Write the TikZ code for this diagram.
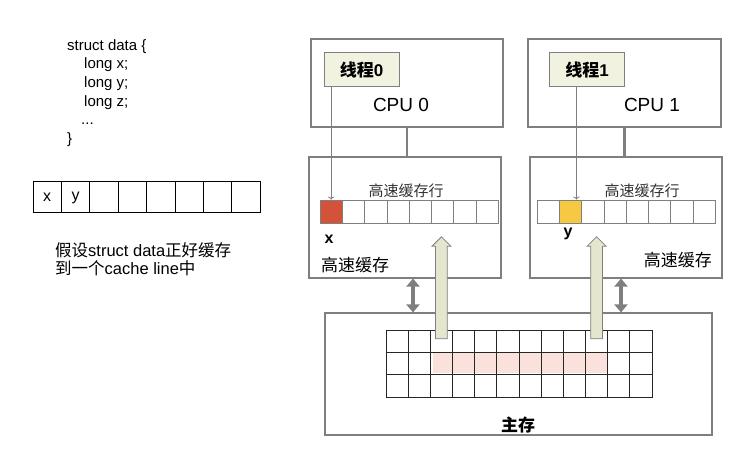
\documentclass[tikz,border=0pt]{standalone}
\usepackage{fontspec}
\setmainfont{Liberation Sans}
\newfontfamily\cjk{Noto Sans CJK SC}
\usepackage{xcolor}
\usetikzlibrary{arrows.meta,positioning,calc,shapes.arrows}

\definecolor{boxgray}{HTML}{7F7F7F}
\definecolor{threadfill}{HTML}{F2F2E1}
\definecolor{xred}{HTML}{D4523A}
\definecolor{yyellow}{HTML}{F7C843}
\definecolor{linepink}{HTML}{FBE1DC}
\definecolor{upfill}{HTML}{E4E6CE}

\begin{document}
\begin{tikzpicture}[
    x=1pt, y=-1pt,
    box/.style={draw=boxgray, line width=1.1pt, inner sep=0pt},
    thread/.style={draw=boxgray, fill=threadfill, line width=1pt, minimum width=75pt, minimum height=34pt, font=\fontsize{17}{17}\selectfont\bfseries},
    ccell/.style={draw=boxgray, line width=0.8pt, minimum width=22.3pt, minimum height=23pt, inner sep=0pt},
    mcell/.style={draw=black!85, line width=0.9pt, minimum width=22.17pt, minimum height=22.33pt, inner sep=0pt},
    acell/.style={draw=black, line width=1pt, minimum width=28.4pt, minimum height=31pt, inner sep=0pt, font=\fontsize{16}{16}\selectfont},
    lbl/.style={inner sep=0pt, font=\cjk\fontsize{17}{17}\selectfont},
    rowlbl/.style={inner sep=0pt, font=\cjk\fontsize{15}{15}\selectfont, text=black!80},
    cpulbl/.style={inner sep=0pt, font=\fontsize{19}{19}\selectfont},
    link/.style={draw=boxgray, line width=2.5pt},
    tarrow/.style={-{To[length=3pt]}, draw=boxgray, line width=0.8pt},
    dbl/.style={{Triangle[length=8pt,width=13pt]}-{Triangle[length=8pt,width=13pt]}, draw=boxgray, line width=4pt},
    uparrow/.style={single arrow, draw=boxgray, fill=upfill, line width=0.8pt, minimum height=102pt, inner xsep=0pt, inner ysep=5.5pt, single arrow head extend=3.5pt, rotate=90, anchor=tail},
]
    \useasboundingbox (0,0) rectangle (740,462);

    % Left: struct and its cache line
    \node[anchor=west, align=left, inner sep=0pt, font=\fontsize{15}{18.6}\selectfont] (code) at (67,93)
        {struct data \{\\\hspace*{17pt}long x;\\\hspace*{17pt}long y;\\\hspace*{17pt}long z;\\\hspace*{14pt}...\\\}};
    \foreach \i/\t in {0/x,1/y,2/,3/,4/,5/,6/,7/}
        \node[acell] (a-\i) at (33+28.4*\i+14.2, 197.5) {\t};
    \node[anchor=west, align=left, inner sep=0pt, font=\fontsize{16.5}{18.5}\selectfont] (note) at (55,259)
        {{\cjk 假设}struct data{\cjk 正好缓存}\\{\cjk 到一个}cache line{\cjk 中}};

    % CPUs
    \node[box, minimum width=192pt, minimum height=88pt] (cpu0) at (407,83) {};
    \node[box, minimum width=193pt, minimum height=88pt] (cpu1) at (624.5,83) {};
    \node[thread] (t0) at (361.5,70) {{\cjk 线程}0};
    \node[thread] (t1) at (587,70) {{\cjk 线程}1};
    \node[cpulbl] (n0) at (401,105) {CPU 0};
    \node[cpulbl] (n1) at (652,105) {CPU 1};

    % Caches
    \node[box, minimum width=192pt, minimum height=121pt] (cache0) at (405,217.5) {};
    \node[box, minimum width=192pt, minimum height=121pt] (cache1) at (626,217.5) {};
    \foreach \i/\c in {0/xred,1/white,2/white,3/white,4/white,5/white,6/white,7/white}
        \node[ccell, fill=\c] (l0-\i) at (320+22.3*\i+11.15, 211.5) {};
    \foreach \i/\c in {0/white,1/yyellow,2/white,3/white,4/white,5/white,6/white,7/white}
        \node[ccell, fill=\c] (l1-\i) at (537+22.3*\i+11.15, 211.5) {};
    \node[rowlbl] (r0) at (406,191) {高速缓存行};
    \node[rowlbl] (r1) at (642,191) {高速缓存行};
    \node[inner sep=0pt, font=\fontsize{16}{16}\selectfont\bfseries] (vx) at (329,239) {x};
    \node[inner sep=0pt, font=\fontsize{16}{16}\selectfont\bfseries] (vy) at (568,234) {y};
    \node[lbl, anchor=west] (c0lbl) at (321,265) {高速缓存};
    \node[lbl, anchor=east] (c1lbl) at (712,260) {高速缓存};

    % Main memory
    \node[box, minimum width=387pt, minimum height=122pt] (mem) at (518.5,374) {};
    \fill[linepink] (433,353.5) rectangle (607,373.5);
    \foreach \r in {0,1,2}
        \foreach \c in {0,...,11}
            \node[mcell] (m-\r-\c) at (386+22.17*\c+11.08, 330+22.33*\r+11.17) {};
    \node[inner sep=0pt, font=\cjk\fontsize{17}{17}\selectfont\bfseries] (mlbl) at (518,425) {主存};

    % Connectors
    \draw[link] (cpu0.south) -- (cpu0.south |- cache0.north);
    \draw[link] (cpu1.south) -- (cpu1.south |- cache1.north);
    \coordinate (p0) at (l0-0.north);
    \coordinate (p1) at ([xshift=6pt]l1-1.north);
    \draw[tarrow] (t0.south -| p0) -- (p0);
    \draw[tarrow] (t1.south -| p1) -- (p1);
    \coordinate (d0) at ([xshift=8pt]cache0.south);
    \coordinate (d1) at ([xshift=-5pt]cache1.south);
    \draw[dbl] (d0) -- (d0 |- mem.north);
    \draw[dbl] (d1) -- (d1 |- mem.north);
    \node[uparrow] (up0) at ($(m-0-2)+(0,-2)$) {};
    \node[uparrow] (up1) at ($(m-0-9)+(0,-2)$) {};
\end{tikzpicture}
\end{document}
